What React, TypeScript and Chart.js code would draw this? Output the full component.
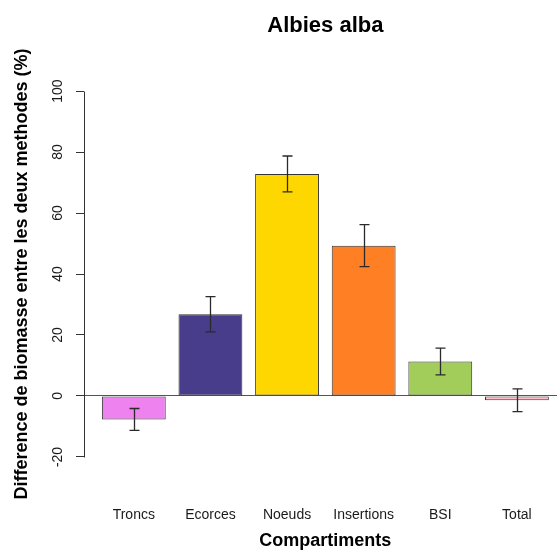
import React, { useEffect, useRef } from 'react';
import { Chart, registerables } from 'chart.js';

Chart.register(...registerables);

// ---- data ----
const chartTitle = 'Albies alba';
const xTitle = 'Compartiments';
const yTitle = 'Difference de biomasse entre les deux methodes (%)';
const categories = ['Troncs', 'Ecorces', 'Noeuds', 'Insertions', 'BSI', 'Total'];
const values = [-7.7, 26.8, 72.8, 49.3, 11.3, -1.4];
const errors = [3.6, 5.8, 5.9, 6.9, 4.4, 3.7];
const colors = ['#EE82EE', '#483D8B', '#FFD700', '#FF7F24', '#A2CD5A', '#FFC0CB'];
const yTicks = [-20, 0, 20, 40, 60, 80, 100];

// barplot geometry (R style: width 1, space 0.2)
const BAR_W = 1;
const SPACE = 0.2;
const barCenter = (i: number) => SPACE + BAR_W / 2 + i * (BAR_W + SPACE);

const FONT = '"Liberation Sans", Arial, Helvetica, sans-serif';

const errorBars = {
  id: 'errorBars',
  afterDatasetsDraw(chart: any) {
    const { ctx } = chart;
    const y = chart.scales.y;
    const meta = chart.getDatasetMeta(0);
    ctx.save();
    ctx.strokeStyle = '#2a2a2a';
    ctx.lineWidth = 1.3;
    meta.data.forEach((bar: any, i: number) => {
      const cx = Math.round(bar.x) + 0.5;
      const top = y.getPixelForValue(values[i] + errors[i]);
      const bot = y.getPixelForValue(values[i] - errors[i]);
      ctx.beginPath();
      ctx.moveTo(cx, top);
      ctx.lineTo(cx, bot);
      ctx.moveTo(cx - 5, top);
      ctx.lineTo(cx + 5, top);
      ctx.moveTo(cx - 5, bot);
      ctx.lineTo(cx + 5, bot);
      ctx.stroke();
    });
    ctx.restore();
  },
};

const yAxisLine = {
  id: 'yAxisLine',
  afterDraw(chart: any) {
    const { ctx, chartArea } = chart;
    const y = chart.scales.y;
    const x = Math.round(chartArea.left) + 0.5;
    ctx.save();
    ctx.strokeStyle = '#333';
    ctx.lineWidth = 1;
    ctx.beginPath();
    ctx.moveTo(x, Math.round(y.getPixelForValue(yTicks[0])) + 0.5);
    ctx.lineTo(x, Math.round(y.getPixelForValue(yTicks[yTicks.length - 1])) + 0.5);
    ctx.stroke();
    ctx.restore();
  },
};

// main title and x-axis title, centred on the bar group like R's plot region
const titles = {
  id: 'titles',
  afterDraw(chart: any) {
    const { ctx } = chart;
    const x = chart.scales.x;
    const cx = x.getPixelForValue((barCenter(0) + barCenter(categories.length - 1)) / 2);
    ctx.save();
    ctx.fillStyle = '#000';
    ctx.textAlign = 'center';
    ctx.textBaseline = 'alphabetic';
    ctx.font = `bold 22px ${FONT}`;
    ctx.fillText(chartTitle, cx, 31.5);
    ctx.font = `bold 18px ${FONT}`;
    ctx.fillText(xTitle, cx, 546);
    ctx.restore();
  },
};

export default function App() {
  const ref = useRef<HTMLCanvasElement | null>(null);

  useEffect(() => {
    if (!ref.current) return;
    Chart.defaults.font.family = FONT;
    const chart = new Chart(ref.current, {
      type: 'bar',
      data: {
        datasets: [
          {
            data: categories.map((_, i) => ({ x: barCenter(i), y: values[i] })),
            backgroundColor: colors,
            borderColor: '#333',
            borderWidth: 1,
            borderSkipped: false,
            categoryPercentage: 1,
            barPercentage: BAR_W / (BAR_W + SPACE),
          } as any,
        ],
      },
      options: {
        responsive: false,
        animation: false,
        devicePixelRatio: 1,
        layout: { padding: { left: 0, right: 0, top: 76.4, bottom: 0 } },
        plugins: {
          legend: { display: false },
          tooltip: { enabled: false },
          title: { display: false },
        },
        scales: {
          x: {
            type: 'linear',
            min: -0.08,
            max: 7.328,
            offset: false,
            afterBuildTicks: (s: any) => {
              s.ticks = categories.map((_, i) => ({ value: barCenter(i) }));
            },
            afterFit: (s: any) => {
              s.height = 78.4;
              s.paddingLeft = 0;
              s.paddingRight = 0;
            },
            grid: { display: false, drawTicks: false, offset: false },
            border: { display: false },
            ticks: {
              autoSkip: false,
              maxRotation: 0,
              minRotation: 0,
              padding: 35,
              color: '#1a1a1a',
              font: { size: 14, family: FONT },
              callback: (_v: any, i: number) => categories[i],
            },
            title: { display: false },
          },
          y: {
            min: -24.8,
            max: 104.8,
            afterBuildTicks: (s: any) => {
              s.ticks = yTicks.map((v) => ({ value: v }));
            },
            afterFit: (s: any) => {
              s.width = 84;
              s.paddingTop = 0;
              s.paddingBottom = 0;
            },
            border: { display: false },
            grid: {
              drawOnChartArea: true,
              drawTicks: true,
              tickLength: 8,
              tickColor: '#333',
              lineWidth: 1,
              color: (c: any) => (c.tick && c.tick.value === 0 ? '#555' : 'rgba(0,0,0,0)'),
            },
            ticks: {
              minRotation: 90,
              maxRotation: 90,
              crossAlign: 'center',
              padding: 6,
              color: '#1a1a1a',
              font: { size: 14, family: FONT },
              callback: (v: any) => String(v),
            },
            title: {
              display: true,
              text: yTitle,
              color: '#000',
              font: { size: 18, weight: 'bold', family: FONT },
              padding: { top: 11, bottom: 0 },
            },
          },
        },
      } as any,
      plugins: [errorBars, yAxisLine, titles],
    });
    return () => chart.destroy();
  }, []);

  return (
    <div style={{ position: 'absolute', left: 0, top: 0, width: 557, height: 550, background: '#fff' }}>
      <canvas ref={ref} width={557} height={550} style={{ display: 'block' }} />
    </div>
  );
}
